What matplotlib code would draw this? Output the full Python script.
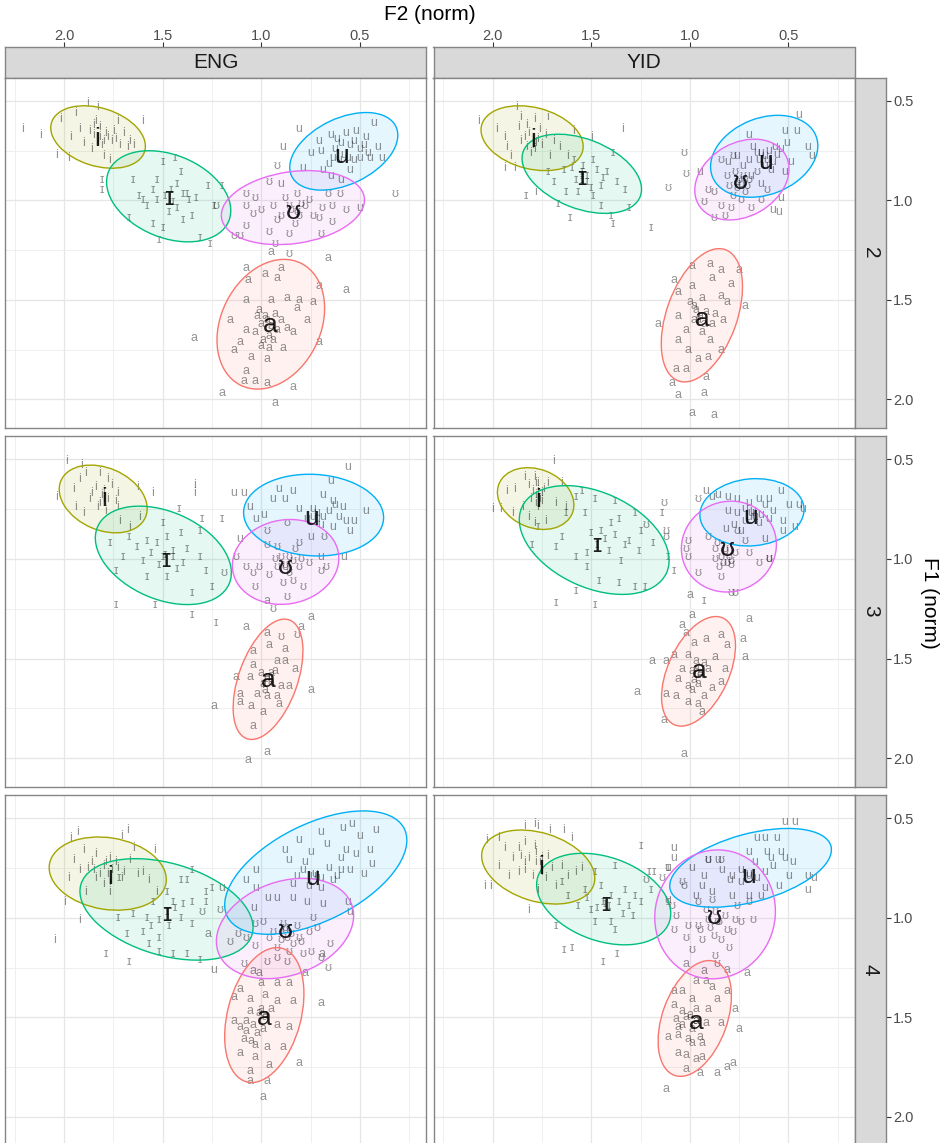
import numpy as np
import matplotlib
matplotlib.use("Agg")
import matplotlib.pyplot as plt
from matplotlib.patches import Ellipse

plt.rcParams['font.family'] = ['Liberation Sans', 'DejaVu Sans']

vowels = ['a', 'i', 'ɪ', 'u', 'ʊ']
colours = ['#F8766D', '#A3A500', '#00BF7D', '#00B0F6', '#E76BF3']
languages = ['ENG', 'YID']
rows = ['2', '3', '4']
x_ticks = [2.0, 1.5, 1.0, 0.5]
y_ticks = [0.5, 1.0, 1.5, 2.0]
x_range = (2.30, 0.165)
y_range = (2.142, 0.383)

# ---- tokens (F2, F1) ----
eng2_a = [(0.95, 1.26), (0.66, 1.29), (1.08, 1.34), (0.98, 1.37), (0.90, 1.34), (0.92, 1.39), (1.07, 1.40),
          (0.71, 1.43), (0.57, 1.45), (1.08, 1.50), (0.95, 1.50), (0.87, 1.49), (0.81, 1.50), (0.74, 1.51),
          (1.01, 1.55), (0.82, 1.54), (1.16, 1.60), (1.08, 1.65), (1.03, 1.66), (0.87, 1.64), (0.84, 1.66),
          (0.77, 1.60), (1.34, 1.69), (1.14, 1.75), (1.11, 1.71), (1.00, 1.73), (0.94, 1.70), (0.89, 1.74),
          (0.71, 1.71), (1.05, 1.79), (0.97, 1.80), (1.08, 1.86), (1.09, 1.91), (1.03, 1.91), (0.97, 1.92),
          (0.84, 1.94), (1.20, 1.97), (0.93, 2.02), (0.97, 1.60), (0.95, 1.63), (0.93, 1.57), (1.00, 1.62),
          (0.96, 1.68), (0.98, 1.58), (0.92, 1.65), (0.99, 1.70), (0.96, 1.74), (0.90, 1.60), (1.02, 1.58)]
eng2_i = [(2.21, 0.64), (2.12, 0.67), (2.04, 0.77), (1.98, 0.79), (2.02, 0.59), (1.94, 0.56), (1.88, 0.51),
          (1.83, 0.53), (1.60, 0.60), (1.92, 0.64), (1.87, 0.65), (1.82, 0.68), (1.79, 0.66), (1.75, 0.65),
          (1.72, 0.72), (1.68, 0.73), (1.65, 0.72), (1.80, 0.78), (1.77, 0.80), (1.90, 0.71), (1.97, 0.68),
          (1.84, 0.60), (1.73, 0.60), (1.67, 0.70), (1.83, 0.70), (1.81, 0.72), (1.85, 0.67), (1.85, 0.62),
          (1.82, 0.63), (1.80, 0.70), (1.78, 0.68), (1.76, 0.70), (1.74, 0.69), (1.86, 0.74), (1.70, 0.66)]
eng2_I = [(1.81, 0.90), (1.81, 0.95), (1.65, 0.90), (1.62, 0.98), (1.53, 0.90), (1.50, 0.81), (1.44, 0.79),
          (1.41, 0.86), (1.38, 0.97), (1.33, 0.99), (1.27, 0.93), (1.20, 0.93), (1.24, 1.03), (1.35, 1.08),
          (1.50, 1.14), (1.55, 1.12), (1.52, 1.20), (1.31, 1.19), (1.26, 1.22), (1.60, 1.00), (1.67, 1.09),
          (1.43, 1.04), (1.40, 1.10), (1.53, 1.00), (1.46, 0.95), (1.49, 0.98), (1.45, 1.01), (1.40, 0.97),
          (1.37, 1.00), (1.55, 0.95), (1.47, 1.06), (1.58, 1.03), (1.43, 0.92)]
eng2_u = [(0.81, 0.64), (0.89, 0.73), (0.71, 0.70), (0.65, 0.67), (0.57, 0.66), (0.52, 0.65), (0.47, 0.68),
          (0.43, 0.61), (0.41, 0.73), (0.39, 0.79), (0.45, 0.79), (0.50, 0.79), (0.64, 0.79), (0.70, 0.75),
          (0.75, 0.76), (0.79, 0.84), (0.69, 0.85), (0.55, 0.85), (0.60, 0.90), (0.50, 0.74), (0.60, 0.71),
          (0.90, 0.92), (0.65, 0.88), (0.50, 1.04), (0.58, 0.77), (0.55, 0.72), (0.63, 0.74), (0.61, 0.80),
          (0.56, 0.79), (0.53, 0.70), (0.48, 0.72), (0.66, 0.82), (0.62, 0.69), (0.46, 0.76), (0.53, 0.80)]
eng2_U = [(0.92, 0.83), (0.96, 0.91), (1.08, 0.97), (1.03, 0.99), (1.08, 1.03), (1.00, 1.05), (1.04, 1.07),
          (0.94, 1.03), (0.88, 0.99), (0.82, 0.97), (0.81, 1.08), (0.74, 1.08), (0.69, 1.04), (0.64, 1.03),
          (0.57, 1.05), (0.60, 0.97), (0.66, 0.97), (0.64, 1.11), (0.70, 1.17), (0.86, 1.17), (0.96, 1.16),
          (1.08, 1.13), (1.14, 1.18), (0.93, 1.22), (0.86, 1.27), (1.23, 1.03), (0.32, 0.97), (1.11, 1.18),
          (0.85, 1.05), (0.80, 1.02), (0.86, 1.03), (0.82, 1.06), (0.78, 1.03), (0.90, 1.08), (0.76, 1.00),
          (0.92, 1.10), (0.83, 1.12), (0.71, 1.09)]

yid2_a = [(0.99, 1.33), (0.90, 1.32), (0.84, 1.35), (0.75, 1.35), (1.08, 1.40), (0.99, 1.43), (0.89, 1.39),
          (0.79, 1.42), (1.06, 1.46), (0.94, 1.49), (0.84, 1.48), (1.00, 1.51), (0.81, 1.51), (0.72, 1.53),
          (1.06, 1.58), (1.16, 1.62), (0.98, 1.60), (0.87, 1.57), (0.83, 1.60), (1.02, 1.65), (1.06, 1.70),
          (0.90, 1.70), (1.01, 1.75), (0.96, 1.80), (0.91, 1.79), (0.84, 1.75), (1.07, 1.85), (1.02, 1.85),
          (0.92, 1.89), (1.09, 1.92), (1.06, 1.98), (0.93, 1.97), (0.99, 2.07), (0.88, 2.08), (0.95, 1.58),
          (0.93, 1.62), (0.97, 1.55), (0.96, 1.60), (0.92, 1.56), (0.98, 1.53), (0.94, 1.66), (0.89, 1.62)]
yid2_i = [(2.07, 0.60), (1.98, 0.64), (1.94, 0.68), (1.93, 0.73), (1.94, 0.84), (1.89, 0.84), (1.88, 0.53),
          (1.86, 0.58), (1.83, 0.62), (1.79, 0.59), (1.76, 0.64), (1.72, 0.58), (1.69, 0.70), (1.66, 0.73),
          (1.62, 0.78), (1.59, 0.65), (1.50, 0.68), (1.34, 0.64), (1.83, 0.73), (1.78, 0.71), (1.91, 0.78),
          (1.71, 0.78), (1.78, 0.96), (1.86, 0.70), (1.80, 0.69), (1.79, 0.74), (1.82, 0.66), (1.80, 0.72),
          (1.77, 0.69), (1.84, 0.68), (1.75, 0.72), (1.73, 0.67), (1.81, 0.76), (1.87, 0.63)]
yid2_I = [(1.83, 0.98), (1.67, 1.02), (1.61, 1.09), (1.72, 0.86), (1.69, 0.91), (1.64, 0.85), (1.59, 0.80),
          (1.54, 0.83), (1.49, 0.80), (1.52, 0.91), (1.45, 0.93), (1.42, 0.86), (1.39, 0.76), (1.37, 0.91),
          (1.33, 0.95), (1.31, 1.04), (1.40, 1.08), (1.39, 1.12), (1.49, 0.98), (1.57, 0.96), (1.63, 0.96),
          (1.20, 1.14), (1.45, 1.03), (1.55, 0.88), (1.55, 0.90), (1.55, 0.86), (1.52, 0.88), (1.47, 0.85),
          (1.50, 0.94), (1.58, 0.90), (1.44, 0.89), (1.60, 0.84)]
yid2_u = [(0.45, 0.57), (0.52, 0.65), (0.46, 0.65), (0.40, 0.73), (0.38, 0.78), (0.51, 0.71), (0.57, 0.73),
          (0.62, 0.78), (0.68, 0.73), (0.70, 0.67), (0.76, 0.78), (0.81, 0.81), (0.59, 0.85), (0.52, 0.86),
          (0.49, 0.81), (0.54, 0.99), (0.58, 1.05), (0.55, 1.06), (0.95, 0.86), (0.69, 0.88), (0.64, 0.92),
          (0.73, 0.83), (0.61, 0.80), (0.64, 0.76), (0.65, 0.80), (0.62, 0.83), (0.60, 0.75), (0.56, 0.77),
          (0.66, 0.76), (0.58, 0.81), (0.70, 0.80), (0.54, 0.74)]
yid2_U = [(1.03, 0.76), (1.02, 0.87), (1.11, 0.94), (0.91, 0.95), (0.93, 1.01), (0.88, 0.96), (0.84, 1.03),
          (0.79, 1.04), (0.74, 1.00), (0.69, 1.04), (0.64, 1.00), (0.88, 1.09), (0.82, 1.08), (0.76, 0.91),
          (0.71, 0.93), (0.81, 0.88), (0.61, 0.95), (0.84, 0.80), (0.78, 0.78), (0.66, 0.86), (0.75, 0.90),
          (0.73, 0.88), (0.76, 0.94), (0.72, 0.96), (0.78, 0.98), (0.74, 0.92), (0.70, 0.90), (0.80, 0.93),
          (0.77, 0.86)]

eng3_a = [(0.97, 1.21), (0.75, 1.29), (1.08, 1.34), (0.97, 1.37), (0.80, 1.34), (0.96, 1.43), (0.88, 1.45),
          (1.04, 1.46), (0.92, 1.51), (0.88, 1.51), (0.83, 1.55), (1.04, 1.53), (1.13, 1.59), (1.06, 1.59),
          (0.99, 1.63), (0.90, 1.64), (0.86, 1.64), (0.75, 1.66), (1.11, 1.68), (1.02, 1.68), (0.97, 1.69),
          (0.92, 1.69), (1.24, 1.74), (1.11, 1.72), (1.05, 1.74), (0.99, 1.77), (0.91, 1.73), (1.04, 1.84),
          (0.97, 1.97), (1.07, 2.01), (0.97, 1.60), (0.95, 1.57), (0.97, 1.59), (0.95, 1.62), (0.98, 1.66),
          (0.93, 1.56), (1.00, 1.57)]
eng3_i = [(1.99, 0.51), (1.91, 0.53), (2.04, 0.69), (1.95, 0.65), (1.92, 0.60), (1.89, 0.57), (1.82, 0.57),
          (1.78, 0.60), (1.73, 0.67), (1.87, 0.70), (1.82, 0.72), (1.79, 0.76), (1.72, 0.81), (1.67, 0.84),
          (1.63, 0.64), (1.55, 0.67), (1.34, 0.67), (1.34, 0.63), (1.90, 0.77), (1.94, 0.74), (1.62, 0.79),
          (1.73, 0.74), (1.80, 0.70), (1.81, 0.68), (1.84, 0.64), (1.80, 0.66), (1.78, 0.70), (1.83, 0.74),
          (1.76, 0.63), (1.86, 0.67), (1.74, 0.71)]
eng3_I = [(1.77, 0.92), (1.74, 1.06), (1.70, 0.99), (1.67, 0.89), (1.63, 0.94), (1.60, 1.01), (1.58, 0.91),
          (1.53, 0.92), (1.48, 0.89), (1.50, 0.82), (1.41, 0.87), (1.45, 0.99), (1.40, 1.02), (1.31, 0.86),
          (1.31, 0.99), (1.28, 1.06), (1.25, 1.14), (1.35, 1.17), (1.48, 1.09), (1.58, 1.09), (1.74, 1.23),
          (1.54, 1.23), (1.35, 1.28), (1.23, 1.32), (1.20, 0.80), (1.30, 0.80), (1.42, 0.75), (1.49, 0.98),
          (1.50, 0.99), (1.45, 0.96), (1.52, 1.03), (1.43, 1.05), (1.56, 0.97), (1.38, 0.95)]
eng3_u = [(1.14, 0.67), (1.09, 0.67), (1.06, 0.74), (1.03, 0.80), (0.99, 0.78), (0.91, 0.65), (0.84, 0.66),
          (0.94, 0.70), (0.88, 0.70), (0.81, 0.75), (0.74, 0.75), (0.69, 0.68), (0.65, 0.61), (0.64, 0.71),
          (0.59, 0.74), (0.56, 0.54), (0.47, 0.76), (0.53, 0.81), (0.55, 0.86), (0.64, 0.84), (0.70, 0.83),
          (0.75, 0.89), (0.58, 0.99), (0.70, 0.99), (1.11, 0.90), (0.74, 0.79), (0.72, 0.80), (0.72, 0.77),
          (0.69, 0.79), (0.66, 0.76), (0.61, 0.79), (0.57, 0.81), (0.63, 0.73), (0.77, 0.80)]
eng3_U = [(0.97, 0.86), (0.87, 0.82), (0.81, 0.92), (0.97, 0.93), (1.13, 0.99), (1.08, 1.04), (1.04, 1.07),
          (1.01, 1.04), (0.96, 1.08), (0.92, 1.04), (0.86, 0.99), (0.81, 1.04), (0.76, 1.02), (0.70, 1.06),
          (0.67, 1.04), (0.68, 0.89), (0.89, 1.12), (0.84, 1.11), (0.79, 1.14), (1.03, 1.14), (0.87, 1.19),
          (0.94, 1.25), (1.19, 1.07), (0.92, 0.94), (0.90, 1.39), (0.82, 1.38), (0.88, 1.03), (0.88, 1.04),
          (0.84, 1.01), (0.90, 0.99), (0.86, 1.07), (0.80, 1.00), (0.93, 1.00), (0.83, 0.95)]

yid3_a = [(1.00, 1.18), (0.99, 1.28), (1.04, 1.33), (1.02, 1.37), (0.70, 1.30), (0.92, 1.40), (0.84, 1.38),
          (0.81, 1.43), (0.73, 1.40), (0.98, 1.42), (1.19, 1.51), (1.12, 1.51), (1.08, 1.48), (1.01, 1.48),
          (0.97, 1.51), (0.87, 1.49), (0.72, 1.49), (1.04, 1.55), (0.99, 1.56), (0.91, 1.55), (0.82, 1.55),
          (1.06, 1.60), (1.01, 1.64), (0.96, 1.63), (0.89, 1.65), (0.84, 1.62), (1.27, 1.67), (1.12, 1.68),
          (1.07, 1.69), (1.01, 1.72), (0.96, 1.73), (0.93, 1.69), (0.94, 1.77), (1.13, 1.81), (1.03, 1.98),
          (0.95, 1.57), (0.97, 1.55), (0.95, 1.58), (0.98, 1.61), (0.93, 1.52), (0.99, 1.66)]
yid3_i = [(1.69, 0.51), (2.00, 0.75), (1.96, 0.75), (1.93, 0.66), (1.89, 0.65), (1.84, 0.59), (1.82, 0.63),
          (1.79, 0.59), (1.77, 0.62), (1.77, 0.69), (1.77, 0.74), (1.74, 0.65), (1.72, 0.62), (1.68, 0.72),
          (1.65, 0.62), (1.63, 0.74), (1.82, 0.79), (1.85, 0.74), (1.73, 0.81), (1.90, 0.77), (1.79, 0.82),
          (1.75, 0.71), (1.78, 0.68), (1.77, 0.66), (1.78, 0.62), (1.76, 0.70), (1.78, 0.72), (1.80, 0.66),
          (1.75, 0.67), (1.81, 0.70)]
yid3_I = [(1.80, 0.93), (1.77, 0.84), (1.68, 0.94), (1.65, 0.89), (1.63, 0.77), (1.58, 0.69), (1.55, 0.66),
          (1.58, 0.99), (1.53, 0.77), (1.48, 0.70), (1.45, 0.86), (1.40, 0.82), (1.38, 0.71), (1.36, 0.80),
          (1.41, 0.96), (1.35, 1.01), (1.31, 0.91), (1.28, 0.77), (1.25, 0.86), (1.26, 0.96), (1.19, 0.92),
          (1.14, 0.77), (1.11, 0.99), (1.08, 1.06), (1.46, 1.11), (1.36, 1.12), (1.28, 1.14), (1.23, 1.14),
          (1.58, 1.16), (1.68, 1.22), (1.48, 1.23), (0.93, 1.21), (1.52, 1.04), (1.47, 0.93), (1.43, 0.90),
          (1.50, 0.87), (1.38, 0.88), (1.52, 0.97), (1.33, 0.93)]
yid3_u = [(0.92, 0.66), (0.89, 0.69), (0.86, 0.68), (0.81, 0.69), (0.76, 0.70), (0.70, 0.72), (0.65, 0.70),
          (0.60, 0.70), (0.54, 0.66), (0.50, 0.73), (0.45, 0.73), (0.47, 0.84), (0.53, 0.81), (0.60, 0.80),
          (0.65, 0.82), (0.72, 0.81), (0.81, 0.76), (0.82, 0.85), (0.53, 0.86), (0.62, 0.90), (0.60, 1.00),
          (0.74, 0.86), (0.43, 0.75), (0.69, 0.77), (0.67, 0.79), (0.72, 0.75), (0.68, 0.76), (0.64, 0.78),
          (0.70, 0.79), (0.76, 0.77), (0.58, 0.76), (0.62, 0.73), (0.78, 0.83)]
yid3_U = [(1.13, 0.72), (1.22, 0.83), (1.12, 0.86), (1.12, 0.89), (1.01, 0.91), (1.02, 0.95), (1.01, 0.99),
          (0.96, 1.07), (0.96, 0.70), (0.91, 0.89), (0.87, 0.95), (0.84, 0.99), (0.85, 1.04), (0.81, 1.02),
          (0.79, 1.01), (0.84, 1.09), (0.70, 0.97), (0.65, 1.02), (0.60, 1.00), (0.72, 0.91), (0.79, 1.17),
          (0.77, 1.17), (0.76, 0.86), (0.87, 1.00), (0.82, 0.95), (0.82, 0.96), (0.80, 0.99), (0.79, 1.03),
          (0.83, 1.02), (0.77, 0.97), (0.86, 0.92)]

eng4_a = [(1.27, 1.08), (1.04, 1.27), (1.01, 1.28), (0.78, 1.28), (0.69, 1.18), (1.00, 1.33), (0.92, 1.33),
          (0.86, 1.33), (1.11, 1.36), (1.14, 1.40), (1.06, 1.41), (0.98, 1.39), (0.92, 1.42), (0.84, 1.42),
          (0.70, 1.43), (1.14, 1.52), (1.11, 1.55), (1.08, 1.52), (1.04, 1.54), (0.92, 1.54), (0.86, 1.55),
          (1.09, 1.61), (1.03, 1.64), (0.97, 1.65), (0.89, 1.65), (1.11, 1.68), (1.03, 1.70), (0.96, 1.74),
          (0.81, 1.73), (1.06, 1.77), (1.06, 1.82), (0.97, 1.82), (0.99, 1.90), (0.98, 1.49), (1.00, 1.46),
          (0.98, 1.50), (1.01, 1.48), (1.06, 1.47), (0.95, 1.46), (1.02, 1.58), (1.05, 1.62), (0.99, 1.56),
          (1.08, 1.57)]
eng4_i = [(1.97, 0.60), (1.93, 0.57), (1.71, 0.59), (1.68, 0.56), (2.00, 0.92), (1.98, 0.80), (1.95, 0.71),
          (1.92, 0.76), (1.90, 0.66), (1.88, 0.75), (1.84, 0.68), (1.84, 0.80), (1.80, 0.74), (1.77, 0.70),
          (1.73, 0.75), (1.71, 0.80), (1.67, 0.71), (1.65, 0.65), (1.63, 0.78), (1.60, 0.77), (1.57, 0.81),
          (1.54, 0.66), (1.53, 0.87), (1.92, 1.01), (1.89, 0.87), (1.77, 0.87), (1.80, 0.83), (2.05, 1.11),
          (1.85, 0.76), (1.78, 0.78), (1.79, 0.72), (1.76, 0.76), (1.82, 0.78), (1.74, 0.72), (1.86, 0.72),
          (1.70, 0.77), (1.77, 0.82)]
eng4_I = [(1.73, 1.00), (1.68, 1.08), (1.79, 1.18), (1.67, 1.22), (1.60, 1.07), (1.58, 1.00), (1.52, 1.10),
          (1.48, 0.87), (1.45, 0.92), (1.41, 1.00), (1.38, 0.81), (1.35, 0.76), (1.35, 0.92), (1.35, 1.03),
          (1.28, 0.87), (1.28, 0.92), (1.25, 0.85), (1.52, 1.17), (1.45, 1.18), (1.38, 1.18), (1.31, 1.21),
          (1.57, 1.13), (1.65, 0.98), (1.72, 0.80), (1.55, 0.92), (1.41, 0.81), (1.48, 0.97), (1.44, 0.95),
          (1.52, 1.01), (1.40, 0.93), (1.56, 1.04), (1.47, 1.04)]
eng4_u = [(1.24, 1.26), (1.20, 0.85), (1.08, 0.81), (1.03, 0.76), (1.03, 0.85), (0.88, 0.66), (0.86, 0.71),
          (0.81, 0.61), (0.75, 0.67), (0.70, 0.57), (0.67, 0.63), (0.59, 0.55), (0.54, 0.53), (0.50, 0.59),
          (0.42, 0.56), (0.45, 0.66), (0.44, 0.73), (0.48, 0.78), (0.55, 0.76), (0.60, 0.76), (0.57, 0.66),
          (0.64, 0.81), (0.70, 0.85), (0.79, 0.76), (0.84, 0.83), (0.92, 0.90), (0.84, 0.90), (0.77, 0.92),
          (0.69, 0.93), (0.56, 0.92), (0.55, 0.97), (0.97, 0.90), (1.04, 0.95), (0.73, 0.78), (0.74, 0.79),
          (0.70, 0.80), (0.66, 0.75), (0.62, 0.79), (0.76, 0.84), (0.78, 0.72), (0.60, 0.70), (0.52, 0.68),
          (0.82, 0.79)]
eng4_U = [(1.30, 0.97), (1.21, 0.96), (1.12, 1.08), (1.08, 1.10), (1.16, 1.12), (1.03, 1.14), (0.99, 1.02),
          (0.96, 1.10), (0.89, 1.03), (0.92, 1.20), (0.87, 1.22), (0.84, 1.13), (0.81, 1.10), (0.76, 1.07),
          (0.72, 1.05), (0.74, 1.00), (0.79, 1.18), (0.75, 1.17), (0.65, 1.13), (0.66, 1.25), (0.70, 1.20),
          (0.97, 1.22), (0.87, 1.10), (1.03, 1.03), (1.09, 1.23), (0.88, 1.06), (0.88, 1.05), (0.85, 1.08),
          (0.90, 1.11), (0.82, 1.04), (0.92, 1.15), (0.80, 1.12), (0.86, 1.17), (0.94, 1.07)]

yid4_a = [(1.02, 1.23), (0.93, 1.27), (0.81, 1.26), (0.71, 1.28), (0.97, 1.32), (0.92, 1.32), (1.08, 1.37),
          (1.04, 1.37), (0.99, 1.41), (0.89, 1.35), (0.86, 1.41), (0.81, 1.37), (1.08, 1.44), (0.97, 1.46),
          (0.91, 1.46), (0.77, 1.46), (1.07, 1.51), (1.04, 1.54), (0.92, 1.53), (0.84, 1.53), (0.75, 1.56),
          (1.11, 1.60), (1.06, 1.59), (0.99, 1.63), (0.94, 1.63), (1.06, 1.68), (1.02, 1.69), (0.97, 1.71),
          (0.94, 1.70), (1.02, 1.76), (0.95, 1.78), (0.86, 1.78), (0.81, 1.75), (0.78, 1.73), (1.12, 1.86),
          (0.97, 1.52), (1.00, 1.49), (0.97, 1.52), (1.02, 1.50), (1.04, 1.47), (0.99, 1.56), (1.06, 1.55),
          (0.95, 1.60), (1.01, 1.61)]
yid4_i = [(1.84, 0.54), (1.79, 0.53), (1.77, 0.54), (1.71, 0.56), (1.64, 0.56), (1.60, 0.60), (2.03, 0.61),
          (2.04, 0.84), (2.01, 0.84), (1.97, 0.60), (1.97, 0.74), (1.94, 0.65), (1.90, 0.70), (1.87, 0.65),
          (1.87, 0.77), (1.84, 0.62), (1.84, 0.72), (1.80, 0.79), (1.78, 0.67), (1.75, 0.74), (1.73, 0.80),
          (1.70, 0.75), (1.68, 0.84), (1.65, 0.74), (1.62, 0.79), (1.58, 0.77), (1.55, 0.75), (1.82, 0.96),
          (1.92, 0.79), (1.77, 0.86), (1.76, 0.72), (1.75, 0.70), (1.78, 0.72), (1.82, 0.70), (1.84, 0.76),
          (1.79, 0.64), (1.75, 0.77), (1.86, 0.69), (1.72, 0.69)]
yid4_I = [(1.25, 0.64), (1.68, 1.04), (1.64, 1.16), (1.60, 1.15), (1.44, 1.22), (1.37, 1.18), (1.57, 0.94),
          (1.53, 0.86), (1.50, 0.96), (1.48, 1.02), (1.45, 0.84), (1.41, 0.94), (1.40, 1.02), (1.38, 0.74),
          (1.33, 0.86), (1.31, 0.94), (1.29, 0.99), (1.28, 0.89), (1.25, 0.92), (1.21, 0.77), (1.20, 0.86),
          (1.18, 0.77), (1.62, 0.89), (1.65, 0.82), (1.48, 0.77), (1.38, 1.06), (1.11, 0.92), (1.11, 0.75),
          (1.43, 0.93), (1.44, 0.92), (1.40, 0.89), (1.47, 0.95), (1.36, 0.92), (1.52, 0.90), (1.34, 0.98)]
yid4_u = [(1.08, 0.65), (1.08, 0.70), (1.11, 0.75), (0.99, 0.75), (0.91, 0.71), (0.86, 0.71), (0.84, 0.76),
          (0.93, 0.79), (0.94, 0.84), (0.79, 0.79), (0.70, 0.67), (0.66, 0.60), (0.62, 0.60), (0.56, 0.60),
          (0.61, 0.67), (0.59, 0.70), (0.54, 0.67), (0.48, 0.72), (0.52, 0.52), (0.47, 0.52), (0.40, 0.79),
          (0.37, 0.80), (0.40, 0.86), (0.50, 0.79), (0.55, 0.84), (0.62, 0.85), (0.64, 0.89), (0.70, 0.89),
          (0.74, 0.82), (0.79, 0.89), (0.89, 0.87), (0.97, 0.89), (1.11, 0.91), (0.70, 0.79), (0.70, 0.78),
          (0.66, 0.80), (0.62, 0.77), (0.58, 0.74), (0.74, 0.76), (0.80, 0.81), (0.52, 0.70), (0.67, 0.72)]
yid4_U = [(1.22, 0.81), (1.14, 0.80), (1.04, 0.82), (1.03, 0.84), (1.09, 0.94), (1.07, 0.99), (1.08, 1.06),
          (1.01, 1.04), (1.02, 1.10), (0.99, 1.16), (0.94, 1.11), (0.96, 1.04), (0.91, 1.01), (0.86, 1.02),
          (0.84, 1.11), (0.81, 1.06), (0.77, 1.01), (0.74, 1.02), (0.68, 1.01), (0.80, 1.15), (0.87, 1.19),
          (0.86, 1.23), (0.91, 0.71), (0.84, 0.71), (0.76, 0.94), (0.70, 0.92), (0.89, 0.91), (0.96, 0.92),
          (0.87, 0.97), (0.85, 1.02), (0.90, 1.05), (0.82, 0.99), (0.92, 0.96), (0.88, 1.09), (0.78, 1.07),
          (0.95, 1.06)]

# ---- vowel means (F2, F1), order: a, i, ɪ, u, ʊ ----
eng2_means = [(0.954, 1.629), (1.833, 0.693), (1.470, 0.991), (0.595, 0.777), (0.840, 1.058)]
yid2_means = [(0.937, 1.599), (1.792, 0.696), (1.547, 0.889), (0.616, 0.810), (0.746, 0.906)]
eng3_means = [(0.966, 1.607), (1.799, 0.701), (1.486, 1.003), (0.747, 0.797), (0.878, 1.040)]
yid3_means = [(0.954, 1.560), (1.769, 0.705), (1.473, 0.931), (0.691, 0.792), (0.811, 0.948)]
eng4_means = [(0.983, 1.502), (1.769, 0.795), (1.478, 0.982), (0.738, 0.798), (0.878, 1.066)]
yid4_means = [(0.966, 1.525), (1.752, 0.746), (1.426, 0.930), (0.704, 0.791), (0.877, 0.997)]

# ---- ellipses: centre F2, centre F1, half extent F2, half extent F1, tilt (deg) ----
eng2_ell = [(0.952, 1.623, 0.273, 0.326, 63), (1.828, 0.682, 0.240, 0.157, -17), (1.470, 0.980, 0.315, 0.229, -22),
            (0.582, 0.754, 0.274, 0.195, 25), (0.840, 1.037, 0.363, 0.186, 8)]
yid2_ell = [(0.939, 1.578, 0.206, 0.335, 70), (1.800, 0.688, 0.259, 0.163, -14), (1.548, 0.867, 0.303, 0.199, -21),
            (0.623, 0.779, 0.272, 0.206, 21), (0.736, 0.896, 0.239, 0.203, 29)]
eng3_ell = [(0.966, 1.604, 0.177, 0.302, 70), (1.802, 0.699, 0.223, 0.170, -23), (1.497, 0.982, 0.345, 0.247, -23),
            (0.735, 0.780, 0.355, 0.205, -3), (0.877, 1.015, 0.270, 0.213, 10)]
yid3_ell = [(0.956, 1.564, 0.1875, 0.275, 65), (1.782, 0.697, 0.194, 0.155, -21), (1.485, 0.905, 0.380, 0.273, -24),
            (0.685, 0.766, 0.264, 0.169, 5), (0.802, 0.938, 0.241, 0.228, 20)]
eng4_ell = [(0.985, 1.489, 0.201, 0.339, 75), (1.779, 0.778, 0.297, 0.184, -9), (1.481, 0.958, 0.439, 0.255, -16),
            (0.724, 0.773, 0.462, 0.310, 26), (0.880, 1.054, 0.348, 0.252, 19)]
yid4_ell = [(0.975, 1.506, 0.186, 0.291, 70), (1.769, 0.745, 0.287, 0.186, -17), (1.437, 0.906, 0.340, 0.230, -19),
            (0.692, 0.749, 0.410, 0.198, 15), (0.872, 0.983, 0.306, 0.324, 70)]

panels = {
    ('ENG', '2'): ([eng2_a, eng2_i, eng2_I, eng2_u, eng2_U], eng2_ell, eng2_means),
    ('YID', '2'): ([yid2_a, yid2_i, yid2_I, yid2_u, yid2_U], yid2_ell, yid2_means),
    ('ENG', '3'): ([eng3_a, eng3_i, eng3_I, eng3_u, eng3_U], eng3_ell, eng3_means),
    ('YID', '3'): ([yid3_a, yid3_i, yid3_I, yid3_u, yid3_U], yid3_ell, yid3_means),
    ('ENG', '4'): ([eng4_a, eng4_i, eng4_I, eng4_u, eng4_U], eng4_ell, eng4_means),
    ('YID', '4'): ([yid4_a, yid4_i, yid4_I, yid4_u, yid4_U], yid4_ell, yid4_means),
}


def axes_lengths(w, h, ang):
    # full axis lengths of an ellipse from its half extents and tilt
    t = np.radians(ang)
    c2, s2 = np.cos(t) ** 2, np.sin(t) ** 2
    a2 = (w * w * c2 - h * h * s2) / (c2 - s2)
    b2 = (h * h * c2 - w * w * s2) / (c2 - s2)
    return 2 * np.sqrt(max(a2, 1e-4)), 2 * np.sqrt(max(b2, 1e-4))


W, H = 940, 1143
fig = plt.figure(figsize=(W / 100, H / 100), dpi=100)


def box(x0, y0, x1, y1):
    return [x0 / W, 1 - y1 / H, (x1 - x0) / W, (y1 - y0) / H]


col_px = [(5, 426), (433.5, 854.5)]
row_px = [(77.5, 427.5), (436, 786.5), (795, 1145)]
border = '#858585'
strip_fill = '#D9D9D9'

for ci, lang in enumerate(languages):
    x0, x1 = col_px[ci]
    # column strip with the top axis
    sax = fig.add_axes(box(x0, 47, x1, 77.5))
    sax.set_facecolor(strip_fill)
    sax.set_xlim(*x_range)
    sax.set_ylim(0, 1)
    sax.xaxis.set_ticks_position('top')
    sax.set_xticks(x_ticks)
    sax.set_xticklabels(['%.1f' % t for t in x_ticks])
    sax.set_yticks([])
    sax.tick_params(axis='x', length=3.5, width=0.8, color='#333333', labelcolor='#4D4D4D',
                    labelsize=10.5, pad=-0.3)
    for s in sax.spines.values():
        s.set_color(border)
        s.set_linewidth(1.0)
    sax.text(0.5, 0.5, lang, transform=sax.transAxes, ha='center', va='center',
             fontsize=15, color='#1A1A1A')

    for ri, row in enumerate(rows):
        y0, y1 = row_px[ri]
        ax = fig.add_axes(box(x0, y0, x1, y1))
        ax.set_xlim(*x_range)
        ax.set_ylim(*y_range)
        ax.set_xticks(x_ticks)
        ax.set_xticks(np.arange(0.25, 2.3, 0.5), minor=True)
        ax.set_yticks(y_ticks)
        ax.set_yticks(np.arange(0.75, 2.2, 0.5), minor=True)
        ax.tick_params(which='both', length=0, labelbottom=False, labelleft=False)
        ax.grid(which='major', color='#E6E6E6', linewidth=0.9)
        ax.grid(which='minor', color='#EDEDED', linewidth=0.6)
        ax.set_axisbelow(True)
        for s in ax.spines.values():
            s.set_color(border)
            s.set_linewidth(1.0)

        tokens, ells, means = panels[(lang, row)]
        for vi, v in enumerate(vowels):
            cx, cy, hw, hh, ang = ells[vi]
            wd, ht = axes_lengths(hw, hh, ang)
            ax.add_patch(Ellipse((cx, cy), wd, ht, angle=ang, facecolor=colours[vi],
                                 alpha=0.1, edgecolor='none', zorder=1))
            ax.add_patch(Ellipse((cx, cy), wd, ht, angle=ang, facecolor='none',
                                 edgecolor=colours[vi], linewidth=1.0, zorder=3))
            for f2, f1 in tokens[vi]:
                ax.text(f2, f1, v, fontsize=9, color='black', alpha=0.42,
                        ha='center', va='center', zorder=2, clip_on=True)
        for vi, v in enumerate(vowels):
            mx, my = means[vi]
            ax.text(mx, my, v, fontsize=19, color='black', alpha=0.88,
                    ha='center', va='center', zorder=4)

        if ci == 1:
            rax = fig.add_axes(box(854.5, y0, 886, y1))
            rax.set_facecolor(strip_fill)
            rax.set_ylim(*y_range)
            rax.set_xlim(0, 1)
            rax.yaxis.set_ticks_position('right')
            rax.set_yticks(y_ticks)
            rax.set_yticklabels(['%.1f' % t for t in y_ticks])
            rax.set_xticks([])
            rax.tick_params(axis='y', length=3.5, width=0.8, color='#333333', labelcolor='#4D4D4D',
                            labelsize=10.5, pad=1.5)
            for s in rax.spines.values():
                s.set_color(border)
                s.set_linewidth(1.0)
            rax.text(0.5, 0.5, row, transform=rax.transAxes, ha='center', va='center',
                     rotation=-90, fontsize=15, color='#1A1A1A')

fig.text(429.5 / W, 1 - 14 / H, 'F2 (norm)', ha='center', va='center', fontsize=15, color='black')
fig.text(930 / W, 1 - 603 / H, 'F1 (norm)', ha='center', va='center', rotation=-90,
         fontsize=15, color='black')

fig.savefig('out.png', dpi=100)
